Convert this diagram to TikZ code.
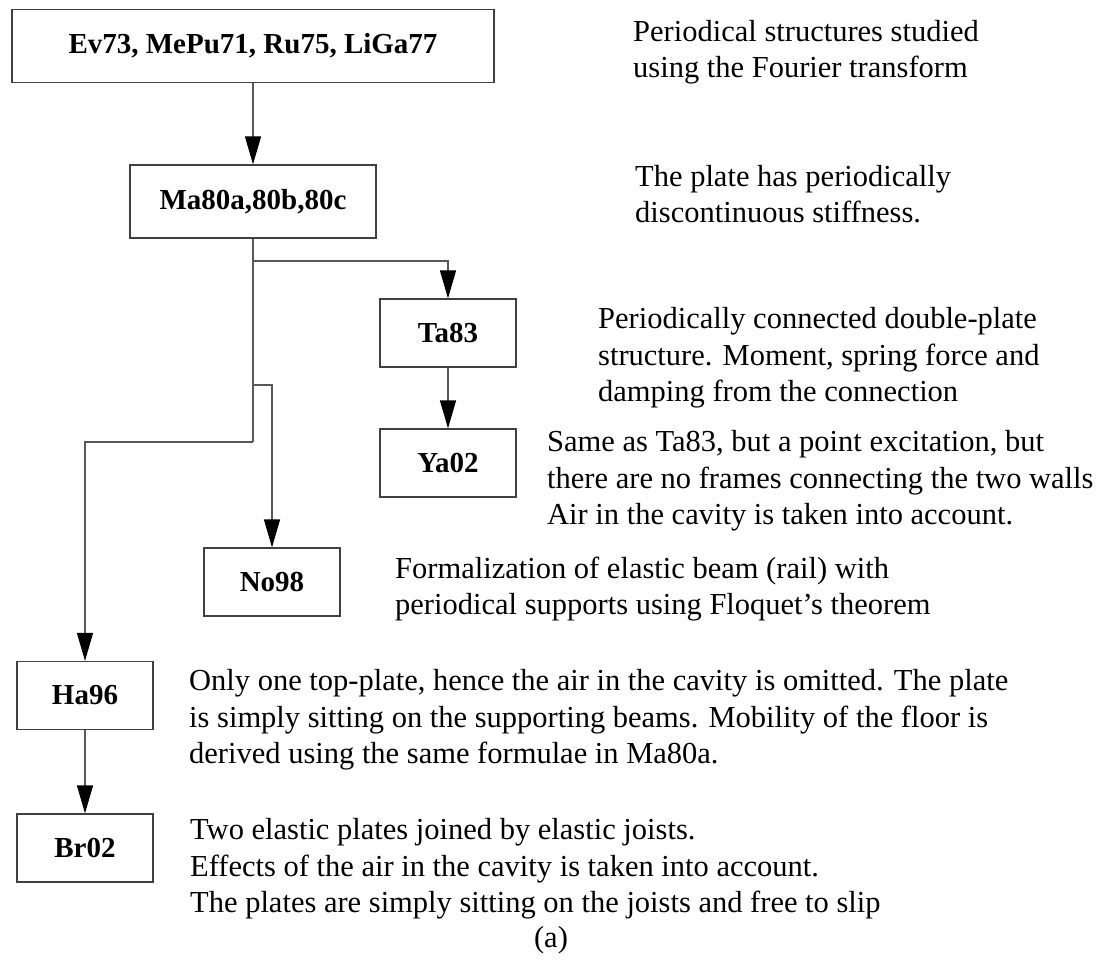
\documentclass[tikz,border=0pt]{standalone}
\usepackage{fontspec}
\setmainfont{Liberation Serif}
\usetikzlibrary{arrows.meta}
\begin{document}
\begin{tikzpicture}[x=1pt,y=-1pt,
  box/.style={draw=black!75, line width=1.2pt, inner sep=0pt, minimum width=136pt, minimum height=68pt, font=\fontsize{29}{34}\selectfont\bfseries},
  desc/.style={anchor=west, align=left, inner sep=0pt, font=\fontsize{30.5}{36.5}\selectfont},
  conn/.style={draw=black!65, line width=1.2pt},
  arr/.style={conn, -{Triangle[length=28pt,width=16pt,color=black,fill=black]}}]
\useasboundingbox (0,0) rectangle (1103,968);
% boxes
\node[box, minimum width=482pt, minimum height=73pt] (top) at (253,46) {Ev73, MePu71, Ru75, LiGa77};
\node[box, minimum width=246pt, minimum height=73pt] (ma) at (253,201.5) {Ma80a,80b,80c};
\node[box] (ta) at (448,333) {Ta83};
\node[box] (ya) at (448,463) {Ya02};
\node[box] (no) at (272,582) {No98};
\node[box] (ha) at (85,695.5) {Ha96};
\node[box] (br) at (85,848) {Br02};
% junctions
\coordinate (j1) at (253,261);
\coordinate (j2) at (253,385);
\coordinate (j3) at (253,442);
% connectors
\draw[arr] (top) -- (ma);
\draw[conn] (ma.south) -- (j3);
\draw[arr] (j1) -| (ta.north);
\draw[arr] (j2) -| (no.north);
\draw[arr] (j3) -| (ha.north);
\draw[arr] (ta) -- (ya);
\draw[arr] (ha) -- (br);
% descriptions
\node[desc] (d1) at (633,52) {Periodical structures studied\\using the Fourier transform};
\node[desc] (d2) at (635,194) {The plate has periodically\\discontinuous stiffness.};
\node[desc] (d3) at (598,358) {Periodically connected double-plate\\structure. Moment, spring force and\\damping from the connection};
\node[desc] (d4) at (547,481) {Same as Ta83, but a point excitation, but\\there are no frames connecting the two walls\\Air in the cavity is taken into account.};
\node[desc] (d5) at (395,589) {Formalization of elastic beam (rail) with\\periodical supports using Floquet's theorem};
\node[desc] (d6) at (189,720) {Only one top-plate, hence the air in the cavity is omitted. The plate\\is simply sitting on the supporting beams. Mobility of the floor is\\derived using the same formulae in Ma80a.};
\node[desc] (d7) at (190,869) {Two elastic plates joined by elastic joists.\\Effects of the air in the cavity is taken into account.\\The plates are simply sitting on the joists and free to slip};
\node[anchor=base, inner sep=0pt, font=\fontsize{30.5}{36.5}\selectfont] (cap) at (551,947) {(a)};
\end{tikzpicture}
\end{document}
